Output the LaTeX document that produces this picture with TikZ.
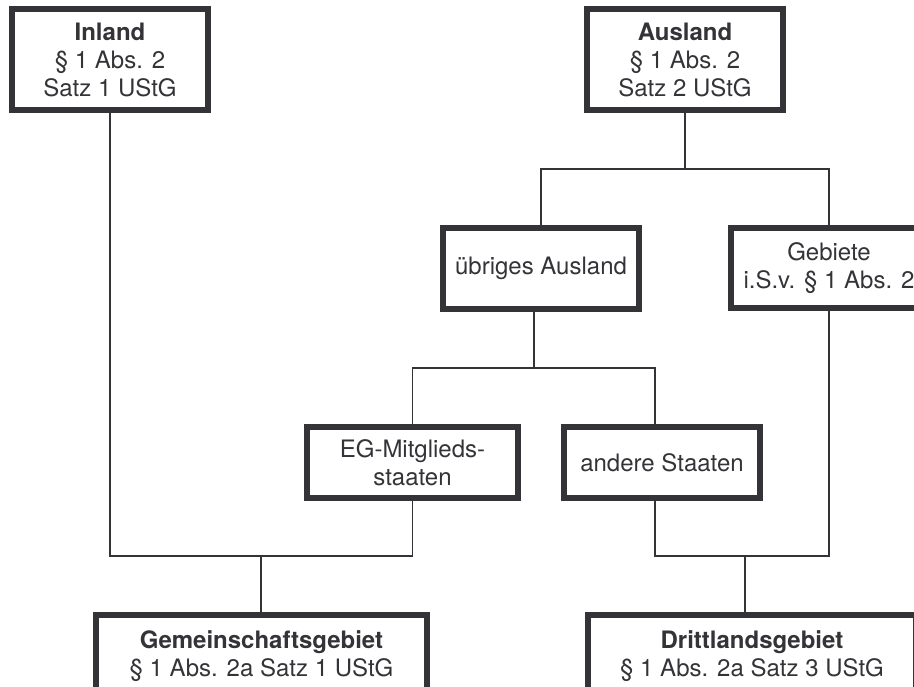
\documentclass[tikz,border=0pt]{standalone}
\usepackage{fontspec}
\setmainfont{TeX Gyre Heros}
\usetikzlibrary{positioning}
\definecolor{ink}{RGB}{51,51,56}
\tikzset{every picture/.style={
  line join=miter               % Square box corners.
  }
}

\begin{document}
\begin{tikzpicture}[
    x=1pt, y=-1pt,
    box/.style={
      draw=ink,
      line width=6pt,
      text=ink,
      align=center,
      inner sep=0pt,
      minimum width=196pt,
      minimum height=80pt,
      font=\fontsize{24}{28}\selectfont
    },
    link/.style={draw=ink, line width=1.6pt}]

    % Fix the page and cut off what runs over its edges.
    \useasboundingbox (0,0) rectangle (914,687);
    \clip (0,0) rectangle (914,687);

    % The two roots.
    \node[box,minimum height=101pt] (inland) at (110,59.5)
      {\textbf{Inland}\\ § 1 Abs. 2\\ Satz 1 UStG};
    \node[box,minimum height=101pt] (ausland) at (685,59.5)
      {\textbf{Ausland}\\ § 1 Abs. 2\\ Satz 2 UStG};

    % Split of the Ausland.
    \node[box,minimum height=81pt] (uebrig) at (541,268.5) {übriges Ausland};
    \node[box] (gebiete) at (829,268) {Gebiete\\ i.S.v. § 1 Abs. 2};

    % Split of the übriges Ausland.
    \node[box,minimum width=211pt,minimum height=71pt] (eg) at (412.5,462.5)
      {EG-Mitglieds-\\ staaten};
    \node[box,minimum height=71pt,right=40pt of eg] (andere) {andere Staaten};

    % The two results, cut by the lower edge.
    \node[box,minimum width=331pt,minimum height=82pt] (gemein) at (261.5,656)
      {\textbf{Gemeinschaftsgebiet}\\ § 1 Abs. 2a Satz 1 UStG};
    \node[box,minimum width=328pt,minimum height=82pt] (dritt) at (752,656)
      {\textbf{Drittlandsgebiet}\\ § 1 Abs. 2a Satz 3 UStG};

    % Branch points.
    \coordinate (topjoin) at (685,169);
    \coordinate (midjoin) at (534,368);
    \coordinate (leftjoin) at (261,556);
    \coordinate (rightjoin) at (745,556);

    % Ausland into its parts.
    \draw[link] (ausland.south) -- (topjoin);
    \draw[link] (uebrig.north) |- (topjoin) -| (gebiete.north);

    % übriges Ausland into its parts.
    \draw[link] ([xshift=-7pt] uebrig.south) -- (midjoin);
    \draw[link] (eg.north) |- (midjoin) -| ([xshift=-7pt] andere.north);

    % Gather into Gemeinschaftsgebiet.
    \draw[link] (inland.south) |- (leftjoin) -| (eg.south);
    \draw[link] (leftjoin) -- (leftjoin |- gemein.north);

    % Gather into Drittlandsgebiet.
    \draw[link] ([xshift=-7pt] andere.south) |- (rightjoin) -| (gebiete.south);
    \draw[link] (rightjoin) -- (rightjoin |- dritt.north);
  \end{tikzpicture}
\end{document}
